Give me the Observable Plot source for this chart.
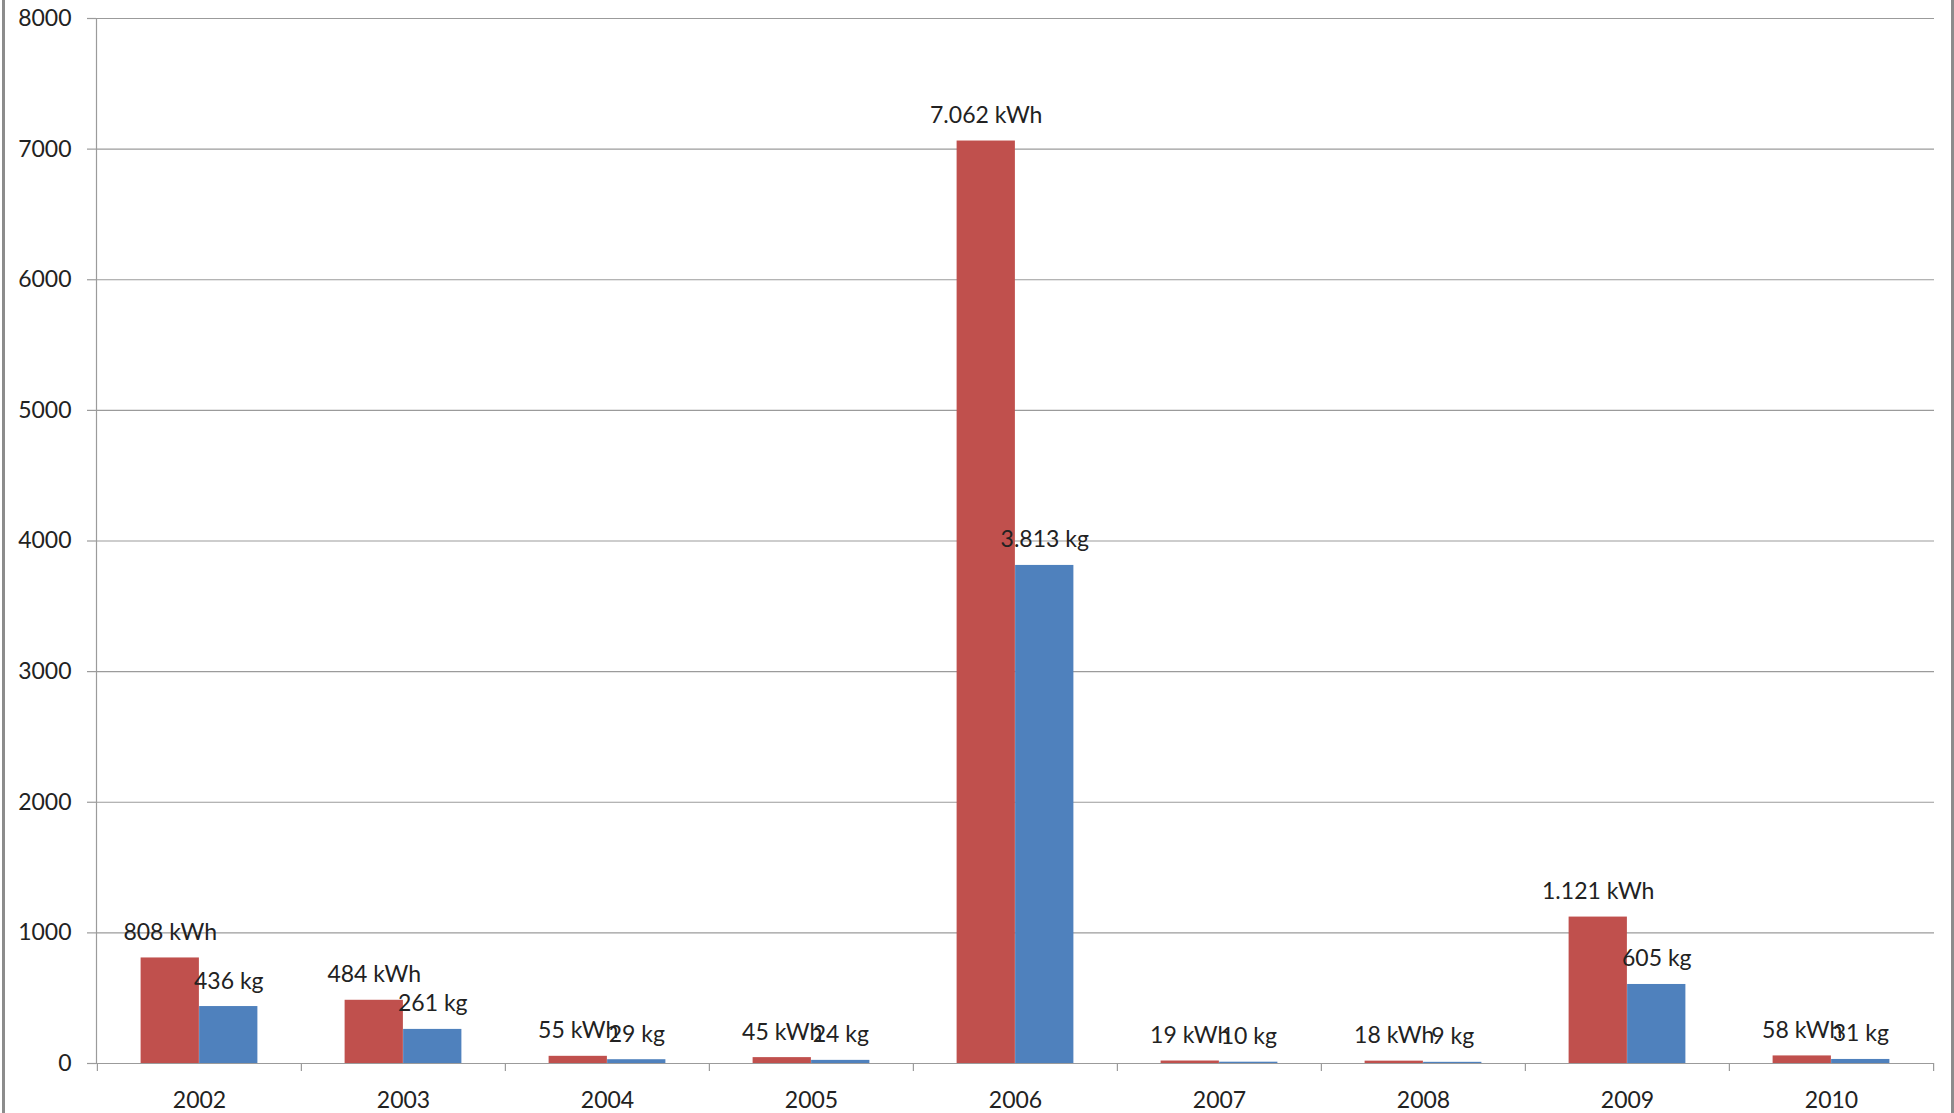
<!DOCTYPE html>
<html>
<head>
<meta charset="utf-8">
<script src="https://cdn.jsdelivr.net/npm/d3@7"></script>
<script src="https://cdn.jsdelivr.net/npm/@observablehq/plot@0.6"></script>
<style>
html, body { margin: 0; padding: 0; background: #fff; }
#chart { position: relative; width: 1954px; height: 1113px; overflow: hidden; background: #fff; }
#chart::before, #chart::after { content: ""; position: absolute; top: 0; bottom: 0; width: 3px; background: #8c8c8c; }
#chart::before { left: 2px; }
#chart::after { right: 0; }
#chart svg { display: block; }
</style>
</head>
<body>
<div id="chart"></div>
<script>
// ---- data ----
const years = ["2002", "2003", "2004", "2005", "2006", "2007", "2008", "2009", "2010"];
const kwhValues = [808, 484, 55, 45, 7062, 19, 18, 1121, 58];
const kgValues = [436, 261, 29, 24, 3813, 10, 9, 605, 31];
const yTicks = [0, 1000, 2000, 3000, 4000, 5000, 6000, 7000, 8000];
const kwhUnit = "kWh";
const kgUnit = "kg";

const rows = years.map((year, i) => ({year, kwh: kwhValues[i], kg: kgValues[i]}));
const fmt = d3.formatLocale({thousands: ".", grouping: [3], decimal: ",", currency: ["", ""]}).format(",d");

const W = 1954, H = 1113;
const mL = 96, mR = 20, mT = 18, mB = 50;
const step = (W - mL - mR) / years.length;
const half = step / 2;
const barW = 58.5;
const gridColor = "#9b9b9b";
const red = "#C0504D", blue = "#4F81BD";

const chart = Plot.plot({
  width: W,
  height: H,
  marginLeft: mL,
  marginRight: mR,
  marginTop: mT,
  marginBottom: mB,
  style: {fontFamily: "Lato, 'Open Sans', sans-serif", fontSize: "23px", color: "#222", background: "#fff", overflow: "visible"},
  x: {domain: years, padding: 0, label: null},
  y: {domain: [0, 8000], label: null},
  marks: [
    Plot.gridY(yTicks, {stroke: gridColor, strokeOpacity: 1, strokeWidth: 1.2}),
    Plot.axisY(yTicks, {tickSize: 9, tickPadding: 16, tickFormat: d => String(d), stroke: gridColor, strokeWidth: 1.2, fill: "#222", label: null}),
    Plot.barY(rows, {x: "year", y: "kwh", fill: red, insetLeft: half - barW, insetRight: half}),
    Plot.barY(rows, {x: "year", y: "kg", fill: blue, insetLeft: half, insetRight: half - barW}),
    Plot.frame({anchor: "left", stroke: gridColor, strokeWidth: 1.2}),
    Plot.ruleY([0], {stroke: gridColor, strokeWidth: 1.2}),
    Plot.ruleX(years, {x: d => d, y1: 0, y2: 0, dx: -half, insetBottom: -8, stroke: gridColor, strokeWidth: 1.2}),
    Plot.ruleX(years.slice(-1), {x: d => d, y1: 0, y2: 0, dx: half, insetBottom: -8, stroke: gridColor, strokeWidth: 1.2}),
    Plot.axisX({tickSize: 0, tickPadding: 28, fill: "#222", label: null}),
    Plot.text(rows, {x: "year", y: "kwh", text: d => fmt(d.kwh) + " " + kwhUnit, dx: -barW / 2, dy: -18, lineAnchor: "bottom", fill: "#222"}),
    Plot.text(rows, {x: "year", y: "kg", text: d => fmt(d.kg) + " " + kgUnit, dx: barW / 2, dy: -18, lineAnchor: "bottom", fill: "#222"})
  ]
});
document.getElementById("chart").appendChild(chart);
</script>
</body>
</html>
